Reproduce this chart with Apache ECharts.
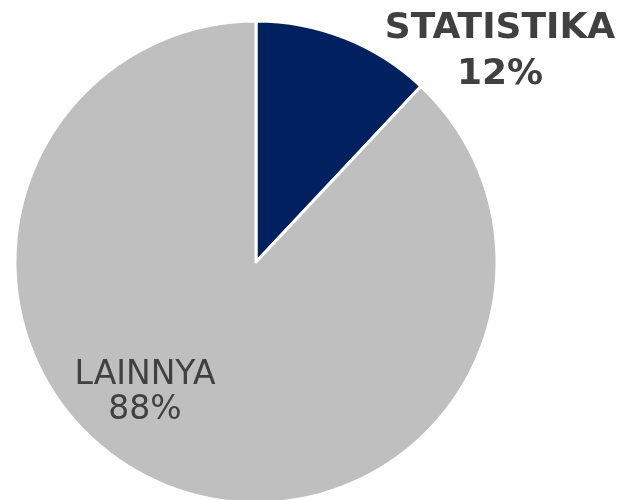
<!DOCTYPE html>
<html>
<head>
<meta charset="utf-8">
<script src="https://cdn.jsdelivr.net/npm/echarts@6/dist/echarts.min.js"></script>
<style>
  html, body { margin: 0; padding: 0; background: #ffffff; }
  #chart { width: 618px; height: 500px; }
</style>
</head>
<body>
<div id="chart"></div>
<script>
  const categories = ["STATISTIKA", "LAINNYA"];
  const values = [12, 88];
  const colors = ["#002060", "#bfbfbf"];

  // label placement per slice (pixels) and weight
  const labelPos = [[500, 52], [145, 393]];
  const labelWeight = ["bold", "normal"];
  const labelSize = [36, 33];
  const labelLineHeight = [46, 35];

  const chart = echarts.init(document.getElementById("chart"));

  const data = categories.map((name, i) => ({
    name,
    value: values[i],
    itemStyle: { color: colors[i] },
    label: {
      fontWeight: labelWeight[i],
      fontSize: labelSize[i],
      lineHeight: labelLineHeight[i],
    },
  }));

  chart.setOption({
    animation: false,
    backgroundColor: "#ffffff",
    series: [
      {
        type: "pie",
        center: [256, 262],
        radius: 241,
        startAngle: 90,
        clockwise: true,
        data,
        itemStyle: { borderColor: "#ffffff", borderWidth: 3 },
        emphasis: { disabled: true },
        label: {
          show: true,
          position: "inside",
          formatter: "{b}\n{c}%",
          color: "#404040",
          fontFamily: "DejaVu Sans",
          align: "center",
        },
        labelLine: { show: false },
        labelLayout: (params) => ({
          x: labelPos[params.dataIndex][0],
          y: labelPos[params.dataIndex][1],
          align: "center",
          verticalAlign: "middle",
        }),
      },
    ],
  });
</script>
</body>
</html>
